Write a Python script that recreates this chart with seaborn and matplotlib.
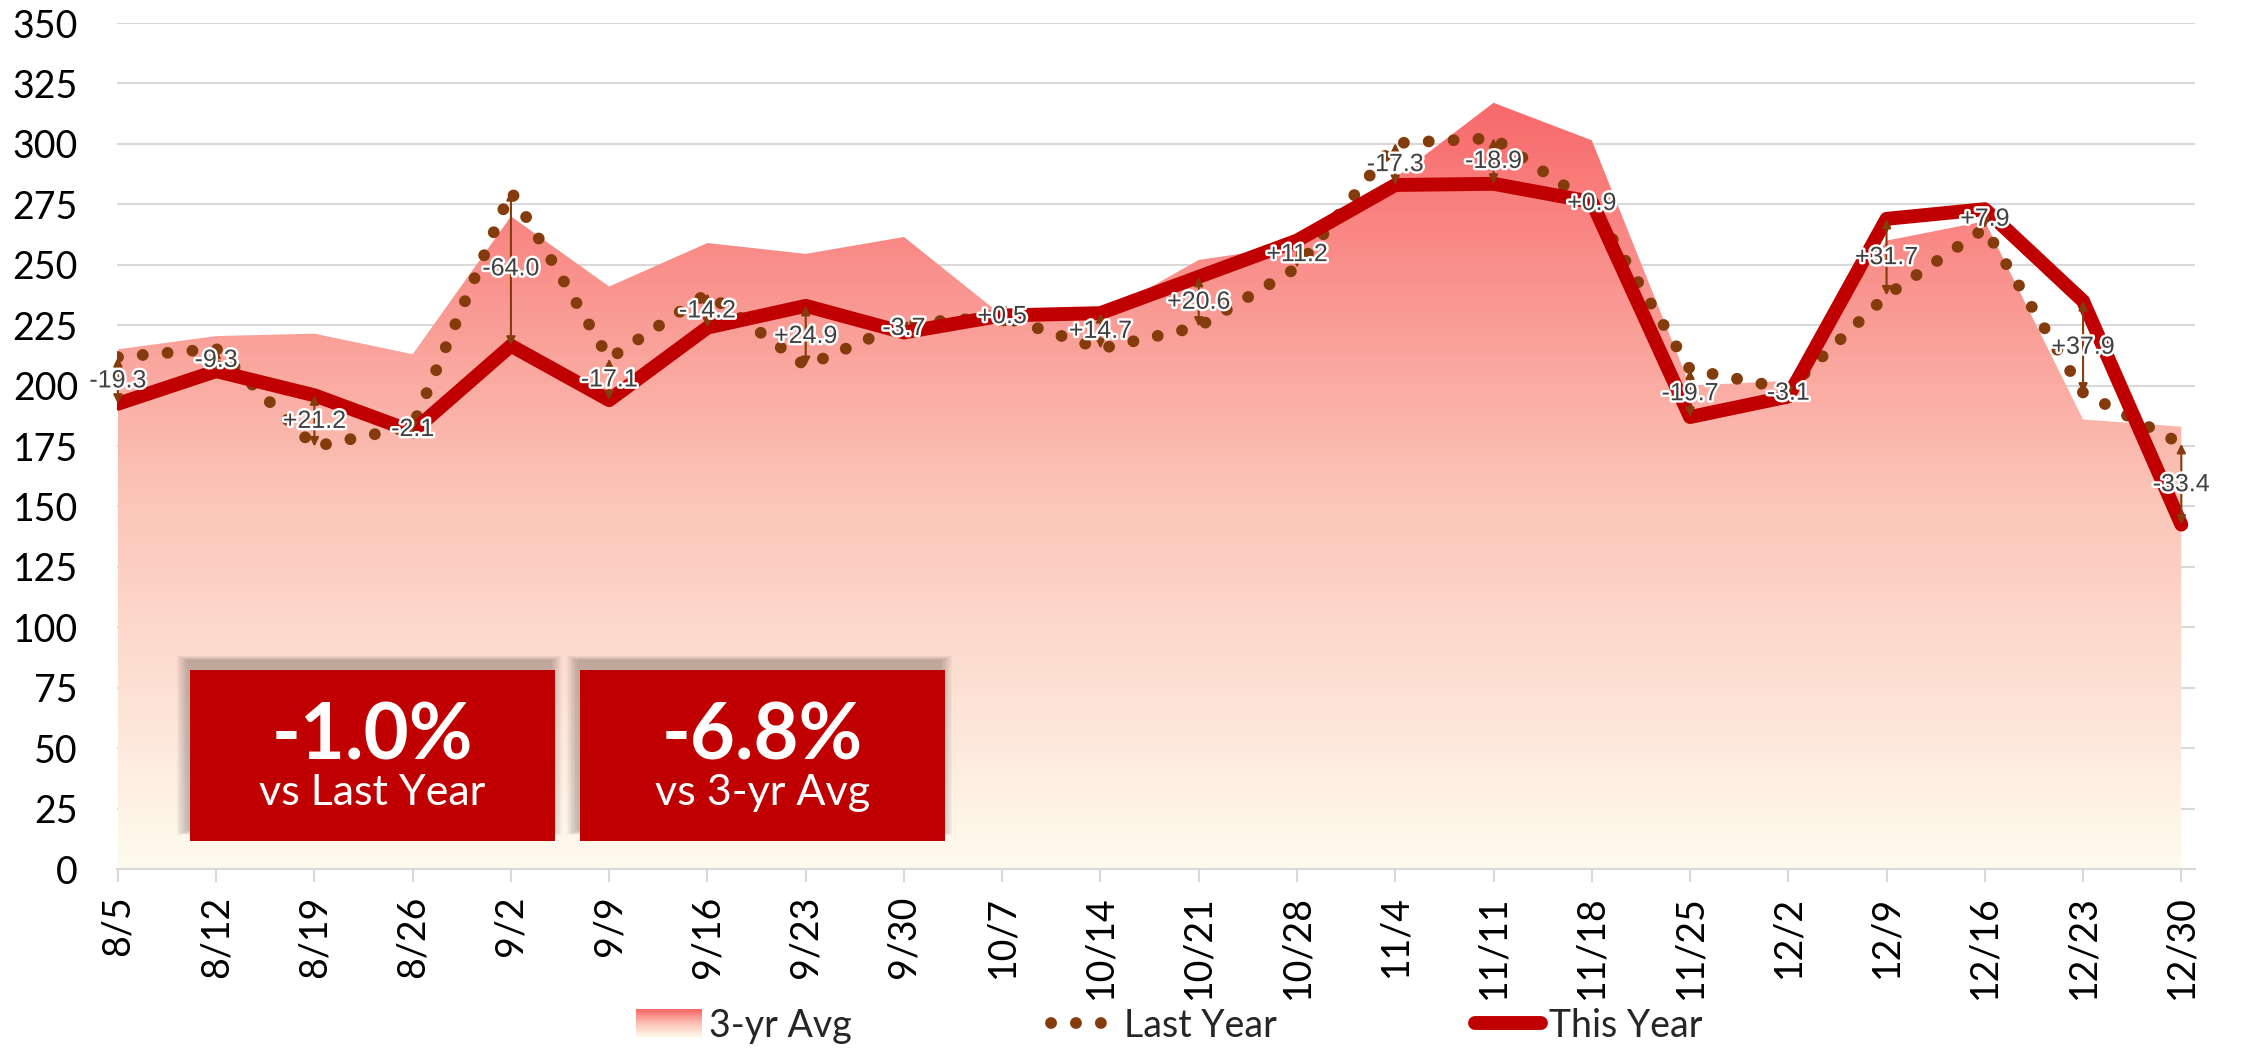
import numpy as np
import matplotlib
matplotlib.use("Agg")
import matplotlib.pyplot as plt
import seaborn as sns
from matplotlib.patches import Rectangle
from matplotlib.lines import Line2D
from matplotlib.legend_handler import HandlerBase
from matplotlib.colors import LinearSegmentedColormap
import matplotlib.patheffects as pe

#---- D A T A ----

weeks = ["8/5", "8/12", "8/19", "8/26", "9/2", "9/9", "9/16", "9/23", "9/30",
         "10/7", "10/14", "10/21", "10/28", "11/4", "11/11", "11/18", "11/25",
         "12/2", "12/9", "12/16", "12/23", "12/30"]
this_year = [192.5, 206.0, 196.0, 181.0, 216.5, 194.0, 224.0, 233.0, 222.0,
             229.0, 230.0, 245.0, 260.0, 283.0, 283.5, 276.0, 187.0,
             195.5, 269.0, 273.0, 235.0, 142.5]
last_year = [211.8, 215.3, 174.8, 183.1, 280.5, 211.1, 238.2, 208.1, 225.7,
             228.5, 215.3, 224.4, 248.8, 300.3, 302.4, 275.1, 206.7,
             198.6, 237.3, 265.1, 197.1, 175.9]
avg_3yr = [215.0, 220.5, 221.5, 213.0, 270.0, 241.0, 259.0, 254.5, 261.5,
           229.0, 229.0, 252.0, 258.0, 286.0, 317.0, 301.5, 200.0,
           202.0, 260.0, 268.0, 186.0, 183.0]
kpi_values = ["-1.0%", "-6.8%"]
kpi_labels = ["vs Last Year", "vs 3-yr Avg"]
series_names = ["3-yr Avg", "Last Year", "This Year"]

RED = "#C00000"
BROWN = "#843C0C"
GRID = "#D9D9D9"
grad_cmap = LinearSegmentedColormap.from_list("avg", ["#FFFBEF", "#FBC3B6", "#F8696B"])
DOTS = (0, (0.01, 2.1))


class GradientHandler(HandlerBase):
    def create_artists(self, legend, orig_handle, xdescent, ydescent,
                       width, height, fontsize, trans):
        n = 24
        arts = []
        for i in range(n):
            r = Rectangle((-xdescent, -ydescent + height * i / n), width, height / n + 0.3,
                          facecolor=grad_cmap(i / (n - 1)), edgecolor="none",
                          transform=trans)
            arts.append(r)
        return arts


#----- M A I N -----

sns.set_theme(style="white")
plt.rcParams["font.family"] = ["Lato", "DejaVu Sans"]
plt.rcParams["lines.dash_capstyle"] = "round"

fig = plt.figure(figsize=(22.44, 10.53), dpi=100)
ax = fig.add_axes([0.0521, 0.1747, 0.9261, 0.8034])

x = np.arange(len(weeks))

# 3-yr avg area with vertical gradient
poly = ax.fill_between(x, 0, avg_3yr, color="none", lw=0)
grad = np.linspace(0, 1, 256).reshape(-1, 1)
im = ax.imshow(grad, extent=[x[0], x[-1], 0, max(avg_3yr)], origin="lower",
               cmap=grad_cmap, aspect="auto", zorder=1)
im.set_clip_path(poly.get_paths()[0], transform=ax.transData)

# Lines
sns.lineplot(x=x, y=last_year, color=BROWN, lw=8.5, linestyle=DOTS,
             dash_capstyle="round", ax=ax, zorder=3, legend=False)
sns.lineplot(x=x, y=this_year, color=RED, lw=10, solid_capstyle="round",
             ax=ax, zorder=4, legend=False)

# Difference arrows and labels
for i in range(len(weeks)):
    ty, ly = this_year[i], last_year[i]
    ax.annotate("", xy=(i, ty), xytext=(i, ly),
                arrowprops=dict(arrowstyle="<|-|>", color=BROWN, lw=1.5,
                                mutation_scale=13, shrinkA=0, shrinkB=0),
                zorder=5)
    ax.text(i, (ty + ly) / 2, "{:+.1f}".format(ty - ly), ha="center", va="center",
            fontsize=18, color="#404040", family=["Liberation Sans", "DejaVu Sans"],
            zorder=6, path_effects=[pe.withStroke(linewidth=3.5, foreground="white")])

# Axes styling
ax.set_xlim(-0.01, 21.14)
ax.set_ylim(0, 350)
ax.set_yticks(range(0, 351, 25))
ax.set_xticks(x)
ax.set_xticklabels(weeks)
ax.yaxis.grid(True, color=GRID, lw=1.5)
ax.xaxis.grid(False)
ax.set_axisbelow(True)
for s in ["top", "left", "right"]:
    ax.spines[s].set_visible(False)
ax.spines["bottom"].set_color(GRID)
ax.spines["bottom"].set_linewidth(1.5)
ax.tick_params(axis="y", length=0, pad=28, labelsize=27, labelcolor="black")
ax.tick_params(axis="x", length=9, width=1.5, color=GRID, pad=10, labelsize=27,
               labelrotation=90, bottom=True, labelcolor="black")

# KPI boxes with a soft shadow to the upper left
boxes = [(0.0351, 0.0331, 0.1756), (0.2228, 0.0331, 0.1757)]
for (bx, by, bw), val, lab in zip(boxes, kpi_values, kpi_labels):
    bh = 0.2021
    for k in range(8):
        g = 0.0007 * k
        ax.add_patch(Rectangle((bx - 0.0015 - g, by + 0.012 - g),
                               bw + 2 * g, bh + 2 * g,
                               transform=ax.transAxes, facecolor="black",
                               alpha=0.03, edgecolor="none", zorder=7))
    ax.add_patch(Rectangle((bx, by), bw, bh, transform=ax.transAxes,
                           facecolor=RED, edgecolor="none", zorder=8))
    cx = bx + bw / 2
    ax.text(cx, 0.156, val, transform=ax.transAxes, ha="center", va="center",
            fontsize=56, fontweight="bold", color="white", zorder=9)
    ax.text(cx, 0.090, lab, transform=ax.transAxes, ha="center", va="center",
            fontsize=31, color="white", zorder=9)

# Legend
h_avg = Rectangle((0, 0), 1, 1)
h_ly = Line2D([], [], color=BROWN, lw=8.5, linestyle=DOTS, dash_capstyle="round")
h_ty = Line2D([], [], color=RED, lw=10, solid_capstyle="round")
fig.legend([h_avg, h_ly, h_ty], series_names, loc="center",
           bbox_to_anchor=(0.521, 0.026), ncol=3, frameon=False, fontsize=27,
           handlelength=1.75, handleheight=0.8, handletextpad=0.2,
           columnspacing=5.3, handler_map={Rectangle: GradientHandler()})

plt.savefig("out.png", dpi=100)
